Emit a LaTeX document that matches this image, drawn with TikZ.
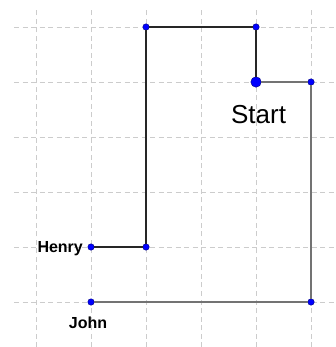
\documentclass[tikz,border=0pt]{standalone}
\usepackage{fontspec}
\setmainfont{Liberation Sans}
\usetikzlibrary{positioning}
\tikzstyle{pt}=[circle,fill=blue,draw=blue!50!black,line width=.4pt,inner sep=0pt,minimum size=6.5pt]
\tikzstyle{bigpt}=[pt,minimum size=10.5pt]
\tikzstyle{gridln}=[dash pattern=on 5pt off 3.5pt,color=black!20,line width=.8pt]
\tikzstyle{walk}=[line width=2.2pt,black!85]
\tikzstyle{back}=[line width=1.4pt,black!55]
\tikzstyle{lbl}=[inner sep=0pt,font=\bfseries\fontsize{16}{18}\selectfont]

\begin{document}
\begin{tikzpicture}[x=55pt,y=55pt]
\useasboundingbox (-.655,-.818) rectangle (5.436,5.491);
% grid
\draw[gridln] (-.4,0) -- (5.436,0);
\draw[gridln] (-.4,1) -- (5.436,1);
\draw[gridln] (-.4,2) -- (5.436,2);
\draw[gridln] (-.4,3) -- (5.436,3);
\draw[gridln] (-.4,4) -- (5.436,4);
\draw[gridln] (-.4,5) -- (5.436,5);
\draw[gridln] (0,-.818) -- (0,5.35);
\draw[gridln] (1,-.818) -- (1,5.35);
\draw[gridln] (2,-.818) -- (2,5.35);
\draw[gridln] (3,-.818) -- (3,5.35);
\draw[gridln] (4,-.818) -- (4,5.35);
\draw[gridln] (5,-.818) -- (5,5.35);
% points
\node[pt] (henry) at (1,1) {};
\node[pt] (a) at (2,1) {};
\node[pt] (b) at (2,5) {};
\node[pt] (c) at (4,5) {};
\node[bigpt] (start) at (4,4) {};
\node[pt] (d) at (5,4) {};
\node[pt] (e) at (5,0) {};
\node[pt] (john) at (1,0) {};
% paths
\draw[walk] (henry) -- (a);
\draw[walk] (a) -- (b);
\draw[walk] (b) -- (c);
\draw[walk] (c) -- (start);
\draw[back] (start) -- (d);
\draw[back] (d) -- (e);
\draw[back] (e) -- (john);
% labels
\node[lbl,left=4.5pt of henry,yshift=-1.5pt] {Henry};
\node[lbl,below=11pt of john,xshift=-3pt] {John};
\node[inner sep=0pt,font=\fontsize{26}{30}\selectfont,below=18pt of start,xshift=2.5pt] {Start};
\end{tikzpicture}
\end{document}
